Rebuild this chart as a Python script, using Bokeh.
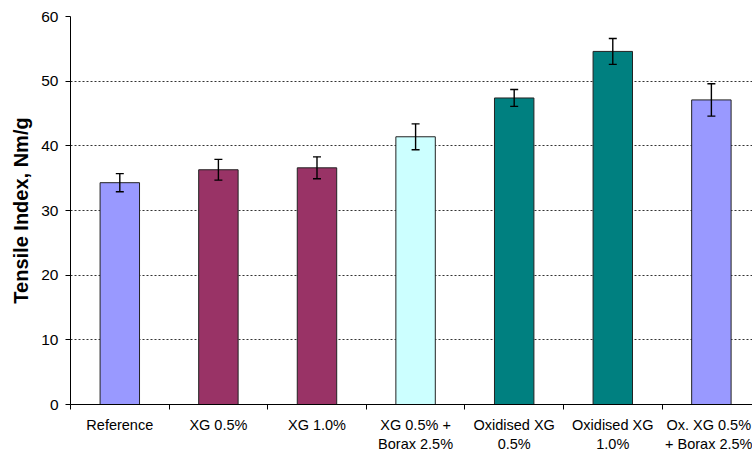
from bokeh.plotting import figure
from bokeh.models import ColumnDataSource, FixedTicker, Whisker, TeeHead, Range1d
from bokeh.embed import file_html
from bokeh.resources import INLINE

categories = ["Reference", "XG 0.5%", "XG 1.0%", "XG 0.5% +\nBorax 2.5%",
              "Oxidised XG\n0.5%", "Oxidised XG\n1.0%", "Ox. XG 0.5%\n+ Borax 2.5%"]
values = [34.3, 36.3, 36.6, 41.4, 47.4, 54.6, 47.1]
errors = [1.4, 1.6, 1.7, 2.0, 1.3, 2.0, 2.5]
colors = ["#9999FF", "#993366", "#993366", "#CCFFFF", "#008080", "#008080", "#9999FF"]
y_ticks = [0, 10, 20, 30, 40, 50, 60]

xs = [i + 0.5 for i in range(len(categories))]
bounds = [float(i) for i in range(len(categories) + 1)]

src = ColumnDataSource(dict(
    x=xs, top=values, color=colors,
    upper=[v + e for v, e in zip(values, errors)],
    lower=[v - e for v, e in zip(values, errors)],
))

p = figure(width=752, height=454, output_backend="svg", toolbar_location=None,
           x_range=Range1d(0, 6.917), y_range=Range1d(0, 60),
           min_border_left=70, min_border_right=0, min_border_top=16, min_border_bottom=49)
p.outline_line_color = None
p.background_fill_color = "white"
p.border_fill_color = "white"

p.xgrid.grid_line_color = None
p.ygrid.grid_line_color = "#333333"
p.ygrid.grid_line_dash = "2 2"
p.ygrid.grid_line_width = 1
p.ygrid.ticker = FixedTicker(ticks=y_ticks)

p.vbar(x="x", top="top", bottom=0, width=0.4, fill_color="color",
       line_color="#222222", line_width=1, source=src)

w = Whisker(base="x", upper="upper", lower="lower", source=src,
            line_color="black", line_width=1.4, level="overlay",
            upper_head=TeeHead(size=8, line_color="black", line_width=1.4),
            lower_head=TeeHead(size=8, line_color="black", line_width=1.4))
p.add_layout(w)

# y axis
ya = p.yaxis[0]
ya.ticker = FixedTicker(ticks=y_ticks)
ya.axis_label = "Tensile Index, Nm/g"
ya.axis_label_text_font = "Liberation Sans"
ya.axis_label_text_font_style = "bold"
ya.axis_label_text_font_size = "20px"
ya.axis_label_text_color = "black"
ya.axis_label_standoff = 6
ya.major_label_text_font = "Liberation Sans"
ya.major_label_text_font_size = "15.5px"
ya.major_label_text_color = "black"
ya.major_label_standoff = 7
ya.major_tick_out = 5
ya.major_tick_in = 0
ya.minor_tick_line_color = None
ya.axis_line_color = "black"
ya.major_tick_line_color = "black"

# x axis
xa = p.xaxis[0]
xa.ticker = FixedTicker(ticks=xs, minor_ticks=bounds)
xa.major_label_overrides = {x: c for x, c in zip(xs, categories)}
xa.major_label_text_font = "Liberation Sans"
xa.major_label_text_font_size = "14.5px"
xa.major_label_text_color = "black"
xa.major_label_standoff = 7
xa.major_tick_line_color = None
xa.major_tick_out = 0
xa.major_tick_in = 0
xa.minor_tick_line_color = "black"
xa.minor_tick_out = 5
xa.minor_tick_in = 0
xa.axis_line_color = "black"

open("out.html", "w").write(file_html(p, INLINE))
